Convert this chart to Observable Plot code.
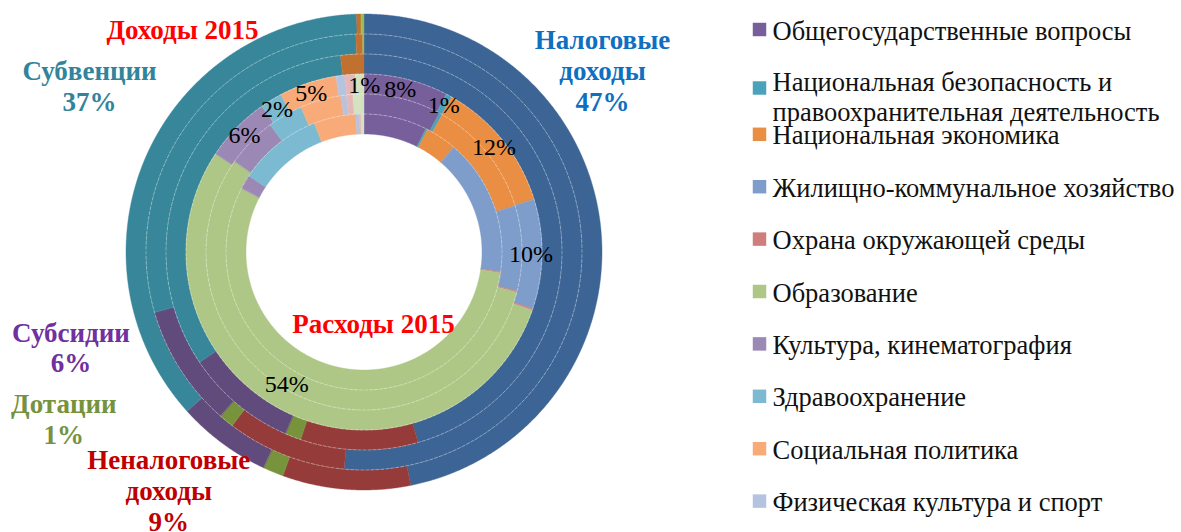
<!DOCTYPE html>
<html>
<head>
<meta charset="utf-8">
<script src="https://cdn.jsdelivr.net/npm/d3@7"></script>
<script src="https://cdn.jsdelivr.net/npm/@observablehq/plot@0.6"></script>
<style>
  html, body { margin: 0; padding: 0; background: #fff; }
  #chart svg { display: block; }
</style>
</head>
<body>
<div id="chart"></div>
<script>
// ---------------- DATA ----------------
// Доходы 2015 — three outer rings (outermost → inner), shares in %
const incomeCategories = ["Налоговые доходы", "Неналоговые доходы", "Дотации", "Субсидии", "Субвенции", "Иные межбюджетные трансферты", "Прочие безвозмездные поступления"];
const incomeColors = ["#3c6596", "#953c3b", "#77933c", "#614b7c", "#378699", "#c0702f", "#9bbb59"];
const incomeOuter  = [46.9, 8.7, 1.4, 6.4, 36.2, 0.3, 0.2];
const incomeMiddle = [51.5, 8.9, 1.1, 9.1, 28.9, 0.5, 0.1];
const incomeInner  = [45.6, 9.6, 1.3, 9.1, 32.5, 1.9, 0.0];
const incomeLabelText = ["Налоговые\nдоходы", "Неналоговые\nдоходы", "Дотации", "Субсидии", "Субвенции", null, null];
const incomeLabelPct  = [47, 9, 1, 6, 37, null, null];
const incomeLabelColors = ["#0f6fc0", "#c00000", "#76923c", "#7030a0", "#31849b", null, null];

// Расходы 2015 — three inner rings (outer → innermost), shares in %
const expenseCategories = [
  "Общегосударственные вопросы",
  "Национальная безопасность и\nправоохранительная деятельность",
  "Национальная экономика",
  "Жилищно-коммунальное хозяйство",
  "Охрана окружающей среды",
  "Образование",
  "Культура, кинематография",
  "Здравоохранение",
  "Социальная политика",
  "Физическая культура и спорт",
  "Средства массовой информации",
  "Обслуживание государственного долга"
];
const expenseColors = ["#775f9c", "#4aa3ba", "#e98e43", "#7e9dcb", "#cf7e7d", "#aec786", "#9b88b5", "#7bbad0", "#f8ab79", "#b4c3df", "#e2b9b8", "#d4e2c0"];
const expenseOuter  = [7.65, 0.55, 12.03, 9.94, 0.14, 54.0, 5.97, 2.0, 5.2, 0.78, 0.94, 0.8];
const expenseMiddle = [7.92, 0.33, 12.03, 8.69, 0.14, 55.6, 5.17, 3.58, 4.19, 0.53, 0.69, 1.11];
const expenseInner  = [7.42, 0.22, 3.64, 16.03, 0.11, 55.22, 1.67, 9.86, 4.89, 0.42, 0.22, 0.31];
const expenseLabelPct = [8, 1, 12, 10, null, 54, 6, 2, 5, null, null, 1];
const legendCount = 10;

const titleIncome = "Доходы 2015";
const titleExpense = "Расходы 2015";

// ---------------- LAYOUT ----------------
const W = 1181, H = 532, CX = 363.5, CY = 251.5;
const ringDefs = [
  {values: incomeOuter,   colors: incomeColors,  cats: incomeCategories,  r0: 218, r1: 238},
  {values: incomeMiddle,  colors: incomeColors,  cats: incomeCategories,  r0: 198, r1: 218},
  {values: incomeInner,   colors: incomeColors,  cats: incomeCategories,  r0: 178, r1: 198},
  {values: expenseOuter,  colors: expenseColors, cats: expenseCategories, r0: 158, r1: 178},
  {values: expenseMiddle, colors: expenseColors, cats: expenseCategories, r0: 138, r1: 158},
  {values: expenseInner,  colors: expenseColors, cats: expenseCategories, r0: 118, r1: 138}
];
const pt = (r, a) => [r * Math.sin(a), -r * Math.cos(a)];

function arcRing(a0, a1, r0, r1) {
  const n = Math.max(2, Math.ceil((a1 - a0) / (Math.PI / 720)));
  const pts = [];
  for (let i = 0; i <= n; i++) pts.push(pt(r1, a0 + (a1 - a0) * i / n));
  for (let i = n; i >= 0; i--) pts.push(pt(r0, a0 + (a1 - a0) * i / n));
  pts.push(pts[0]);
  return pts;
}

// segments from cumulative shares
const segments = [];
const segAngles = [];
for (const ring of ringDefs) {
  const total = d3.sum(ring.values);
  let acc = 0;
  const angles = [];
  ring.values.forEach((v, i) => {
    const a0 = acc / total * 2 * Math.PI;
    acc += v;
    const a1 = acc / total * 2 * Math.PI;
    angles.push([a0, a1]);
    if (v > 0) {
      segments.push({type: "Feature", properties: {cat: ring.cats[i], color: ring.colors[i]},
        geometry: {type: "Polygon", coordinates: [arcRing(a0, a1, ring.r0, ring.r1)]}});
    }
  });
  segAngles.push(angles);
}

// dashed separators between rings
const separators = [218, 198, 178, 158, 138].map(r => ({
  type: "Feature", properties: {},
  geometry: {type: "LineString", coordinates: d3.range(0, 721).map(k => pt(r, k / 720 * 2 * Math.PI))}
}));

// percent labels on the outer expense ring
const labelR = 167;
const pctLabels = [];
expenseLabelPct.forEach((p, i) => {
  if (p == null) return;
  const [a0, a1] = segAngles[3][i];
  let a = (a0 + a1) / 2, r = labelR;
  if (i === 5) { a += 4 * Math.PI / 180; r -= 14; }
  if (i === 11) { a += 1.5 * Math.PI / 180; }
  if (i === 0) { a -= 1.2 * Math.PI / 180; }
  const [x, y] = pt(r, a);
  pctLabels.push({x, y, text: `${p}%`});
});

// income annotations (pixel anchor = centre x, baseline of last line)
const incomeAnchors = [[602, 110], [168.3, 530], [63.3, 443.3], [70.5, 371.7], [89, 110]];
const incomeLabels = incomeAnchors.map(([px, py], i) => ({
  x: px - CX, y: py - CY, text: `${incomeLabelText[i]}\n${incomeLabelPct[i]}%`, color: incomeLabelColors[i]
}));

const titles = [
  {x: 182 - CX, y: 38 - CY, text: titleIncome},
  {x: 373 - CX, y: 332.5 - CY, text: titleExpense}
];

// legend
const legendItems = d3.range(legendCount).map(i => {
  const cy = i === 1 ? 87.5 : 29 + 52.4 * i;
  const base = i === 1 ? 120 : cy + 10;
  return {sx: 759 - CX, sy: cy - CY, tx: 772 - CX, ty: base - CY, text: expenseCategories[i], color: expenseColors[i]};
});

const chart = Plot.plot({
  width: W, height: H, margin: 0,
  projection: {type: "identity", domain: {type: "MultiPoint", coordinates: [[-CX, -CY], [W - CX, H - CY]]}},
  color: {type: "identity"},
  style: {fontFamily: "'Liberation Serif', 'Times New Roman', serif", background: "#fff", overflow: "visible"},
  marks: [
    Plot.geo(segments, {fill: d => d.properties.color, stroke: d => d.properties.color, strokeWidth: 0.4}),
    Plot.geo(separators, {stroke: "#ffffff", strokeOpacity: 0.45, strokeWidth: 0.8, strokeDasharray: "3,2", fill: "none"}),
    Plot.text(pctLabels, {x: "x", y: "y", text: "text", fontSize: 24, fill: "#000"}),
    Plot.text(incomeLabels, {x: "x", y: "y", text: "text", fill: "color", fontSize: 27, fontWeight: "bold", lineAnchor: "bottom", lineHeight: 1.13}),
    Plot.text(titles, {x: "x", y: "y", text: "text", fill: "#ff0000", fontSize: 27, fontWeight: "bold", lineAnchor: "bottom"}),
    Plot.dot(legendItems, {x: "sx", y: "sy", symbol: "square", r: 7.6, fill: "color", stroke: null}),
    Plot.text(legendItems, {x: "tx", y: "ty", text: "text", textAnchor: "start", lineAnchor: "bottom", lineHeight: 1.1, fontSize: 26.5, fill: "#111"})
  ]
});
document.getElementById("chart").append(chart);
</script>
</body>
</html>
